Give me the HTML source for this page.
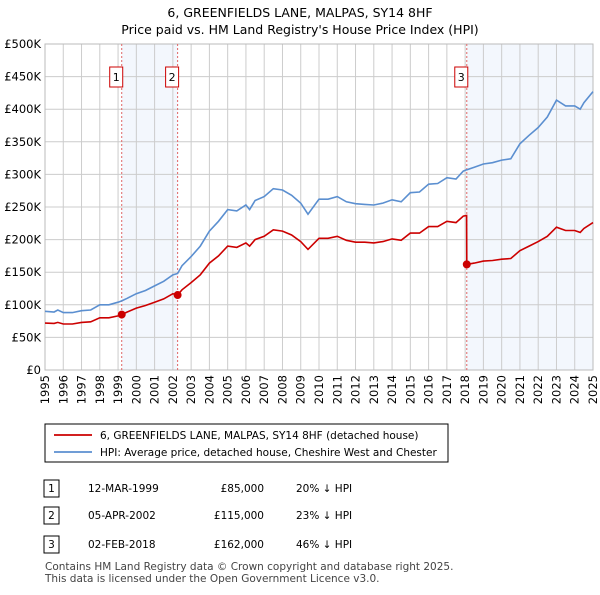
<!DOCTYPE html>
<html><head><meta charset="utf-8"><style>
body{margin:0;background:#fff;font-family:"Liberation Sans","DejaVu Sans",sans-serif;}
svg text{font-family:"DejaVu Sans","Liberation Sans",sans-serif;}
</style></head><body>
<svg id="c" width="600" height="590" xmlns="http://www.w3.org/2000/svg">
<text x="300" y="17" text-anchor="middle" font-size="12.5">6, GREENFIELDS LANE, MALPAS, SY14 8HF</text>
<text x="300" y="34" text-anchor="middle" font-size="12.5">Price paid vs. HM Land Registry's House Price Index (HPI)</text>
<g id="plot"></g>
<g>
<rect x="45" y="424" width="403" height="38" fill="#fff" stroke="#000" stroke-width="1"/>
<line x1="54" y1="435" x2="92" y2="435" stroke="#cc0000" stroke-width="1.8"/>
<text x="100" y="439" font-size="10.5">6, GREENFIELDS LANE, MALPAS, SY14 8HF (detached house)</text>
<line x1="54" y1="452" x2="92" y2="452" stroke="#5b8fd0" stroke-width="1.8"/>
<text x="100" y="456" font-size="10.5">HPI: Average price, detached house, Cheshire West and Chester</text>
</g>
<g font-size="10.5">
<rect x="44" y="480" width="15" height="17" fill="#fff" stroke="#000"/><text x="51.5" y="492" text-anchor="middle">1</text>
<text x="88" y="492">12-MAR-1999</text><text x="264" y="492" text-anchor="end">£85,000</text><text x="296" y="492">20% ↓ HPI</text>
<rect x="44" y="507" width="15" height="17" fill="#fff" stroke="#000"/><text x="51.5" y="519" text-anchor="middle">2</text>
<text x="88" y="519">05-APR-2002</text><text x="264" y="519" text-anchor="end">£115,000</text><text x="296" y="519">23% ↓ HPI</text>
<rect x="44" y="536" width="15" height="17" fill="#fff" stroke="#000"/><text x="51.5" y="548" text-anchor="middle">3</text>
<text x="88" y="548">02-FEB-2018</text><text x="264" y="548" text-anchor="end">£162,000</text><text x="296" y="548">46% ↓ HPI</text>
</g>
<text x="45" y="570" font-size="10.5" fill="#444">Contains HM Land Registry data © Crown copyright and database right 2025.</text>
<text x="45" y="582" font-size="10.5" fill="#444">This data is licensed under the Open Government Licence v3.0.</text>
</svg>
<script>
const dates=[1995.0,1995.5,1995.7,1996.0,1996.5,1997.0,1997.5,1998.0,1998.5,1999.0,1999.2,1999.5,2000.0,2000.5,2001.0,2001.5,2002.0,2002.26,2002.5,2003.0,2003.5,2004.0,2004.5,2005.0,2005.5,2006.0,2006.2,2006.5,2007.0,2007.5,2008.0,2008.5,2009.0,2009.4,2010.0,2010.5,2011.0,2011.5,2012.0,2012.5,2013.0,2013.5,2014.0,2014.5,2015.0,2015.5,2016.0,2016.5,2017.0,2017.5,2017.9,2018.08,2018.09,2018.5,2019.0,2019.5,2020.0,2020.5,2021.0,2021.5,2022.0,2022.5,2023.0,2023.5,2024.0,2024.3,2024.5,2025.0];
const hpi=[90,89,92,88,88,91,92,100,100,104,106,110,117,122,129,136,146,148,160,174,190,213,228,246,244,253,246,260,266,278,276,268,256,239,262,262,266,258,255,254,253,256,261,258,272,273,285,286,295,293,305,307,307,311,316,318,322,324,347,360,372,388,414,405,405,400,410,427];
const paid=[72,71.5,73,70.5,70.5,73,74,80,80,83,85,89,95,99,104,109,117,115,123,134,146,164,175,190,188,195,190,200,205,215,213,207,197,185,202,202,205,199,196,196,195,197,201,199,210,210,220,220,228,226,236,237,162,164,167,168,170,171,183,190,197,205,219,214,214,211,217,226];
const saleDates=[1999.2,2002.26,2018.09];
const salePrices=[85,115,162];
const saleLabels=["1","2","3"];
const yTicks=[0,50,100,150,200,250,300,350,400,450,500];
const yTickLabels=["£0","£50K","£100K","£150K","£200K","£250K","£300K","£350K","£400K","£450K","£500K"];
const xYears=[1995,1996,1997,1998,1999,2000,2001,2002,2003,2004,2005,2006,2007,2008,2009,2010,2011,2012,2013,2014,2015,2016,2017,2018,2019,2020,2021,2022,2023,2024,2025];

const L=45,R=593,T=44,B=370;
const X=d=>L+(d-1995)/30*(R-L);
const Y=v=>B-v/500*(B-T);
const NS="http://www.w3.org/2000/svg";
const g=document.getElementById('plot');
function mk(tag,attrs,parent){const e=document.createElementNS(NS,tag);for(const k in attrs)e.setAttribute(k,attrs[k]);(parent||g).appendChild(e);return e;}
// shading
let s1=mk('rect',{x:X(saleDates[0]),y:T,width:X(saleDates[1])-X(saleDates[0]),height:B-T,fill:'#eef3fc',opacity:0.7});


let s2=mk('rect',{x:X(saleDates[2]),y:T,width:R-X(saleDates[2]),height:B-T,fill:'#eef3fc',opacity:0.7});


// grid
yTicks.forEach((v,i)=>{
 const ln=mk('line',{x1:L,x2:R,y1:Y(v),y2:Y(v),stroke:'#cccccc','stroke-width':1});
 
 
 const t=mk('text',{x:L-4,y:Y(v)+4,'text-anchor':'end','font-size':11.5});
 t.textContent=yTickLabels[i];
 
 
});
xYears.forEach(yr=>{
 const ln=mk('line',{x1:X(yr),x2:X(yr),y1:T,y2:B,stroke:'#cccccc','stroke-width':1});
 
 
 const t=mk('text',{x:0,y:0,'text-anchor':'end','font-size':11.5,transform:`translate(${X(yr)+4},${B+5}) rotate(-90)`});
 t.textContent=yr;
 
 
});
const fr=mk('rect',{x:L,y:T,width:R-L,height:B-T,fill:'none',stroke:'#bbbbbb'});


// sale vlines
saleDates.forEach((d,i)=>{
 const ln=mk('line',{x1:X(d),x2:X(d),y1:T,y2:B,stroke:'#e06666','stroke-width':1,'stroke-dasharray':'2,2'});
 
 
 const bx=mk('rect',{x:X(d)-12,y:67,width:13,height:20,fill:'#fff',stroke:'#cc0000'});
 
 
 const t=mk('text',{x:X(d)-5.5,y:81,'text-anchor':'middle','font-size':11});
 t.textContent=saleLabels[i];
 
 
});
const pts=a=>dates.map((d,i)=>X(d).toFixed(1)+','+Y(a[i]).toFixed(1)).join(' ');
const hl=mk('polyline',{points:pts(hpi),fill:'none',stroke:'#5b8fd0','stroke-width':1.6});


const pl=mk('polyline',{points:pts(paid),fill:'none',stroke:'#cc0000','stroke-width':1.6});


saleDates.forEach((d,i)=>{
 const c=mk('circle',{cx:X(d),cy:Y(salePrices[i]),r:4,fill:'#cc0000'});
 
 
});
</script>
</body></html>
